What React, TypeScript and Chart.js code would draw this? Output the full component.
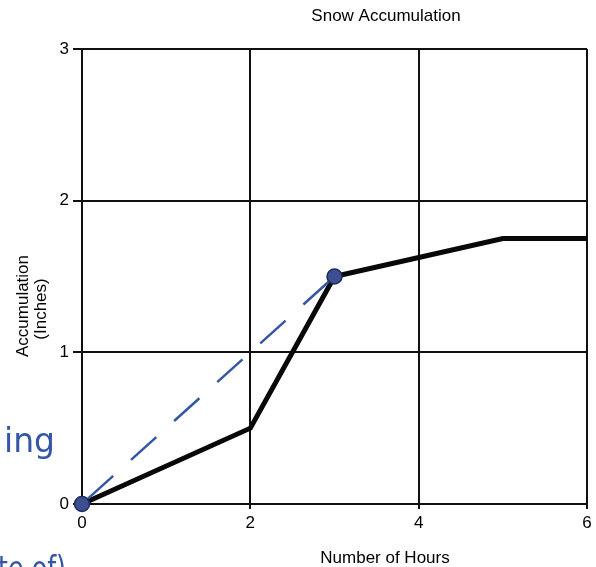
import React, { useEffect, useRef } from "react";
import { Chart, registerables } from "chart.js";

Chart.register(...registerables);

// ---- data ----
const hours = [0, 2, 3, 5, 6];
const accumulation = [0, 0.5, 1.5, 1.75, 1.75];
const rateHours = [0, 3];
const rateAccumulation = [0, 1.5];
const xTickValues = [0, 2, 4, 6];
const yTickValues = [0, 1, 2, 3];
const chartTitle = "Snow Accumulation";
const xTitle = "Number of Hours";
const yTitleLines = ["Accumulation", "(Inches)"];
const noteTop = "ing";
const noteBottom = "te of)";

const FONT = '"Liberation Sans", Arial, sans-serif';
const INK = "#3556a6";

const textPlugin = {
  id: "sheetText",
  afterDraw(chart: any) {
    const ctx = chart.ctx as CanvasRenderingContext2D;
    ctx.save();
    ctx.fillStyle = "#000";
    ctx.font = `17px ${FONT}`;
    ctx.textAlign = "center";
    ctx.textBaseline = "alphabetic";
    ctx.fillText(chartTitle, 386, 21);
    ctx.fillText(xTitle, 385, 563);
    const yPos = [
      [28, 306],
      [46, 309],
    ];
    yTitleLines.forEach((t, i) => {
      ctx.save();
      ctx.translate(yPos[i][0], yPos[i][1]);
      ctx.rotate(-Math.PI / 2);
      ctx.fillText(t, 0, 0);
      ctx.restore();
    });
    ctx.fillStyle = INK;
    ctx.font = `33px "DejaVu Sans", sans-serif`;
    ctx.textAlign = "left";
    ctx.fillText(noteTop, 4, 452);
    ctx.fillText(noteBottom, -2, 580, 68);
    ctx.restore();
  },
};

export default function App() {
  const ref = useRef<HTMLCanvasElement | null>(null);

  useEffect(() => {
    if (!ref.current) return;
    const gridColor = "#111";
    const tickFont = { family: FONT, size: 17 };
    const chart = new Chart(ref.current, {
      type: "line",
      data: {
        datasets: [
          {
            label: "Rate",
            data: rateHours.map((x, i) => ({ x, y: rateAccumulation[i] })),
            borderColor: INK,
            borderWidth: 2.5,
            borderDash: [34, 24],
            borderDashOffset: -8,
            pointRadius: 7.5,
            pointBackgroundColor: "#3d4f90",
            pointBorderColor: "#1f2b5e",
            pointBorderWidth: 1.5,
            clip: false,
            tension: 0,
          } as any,
          {
            label: "Accumulation",
            data: hours.map((x, i) => ({ x, y: accumulation[i] })),
            borderColor: "#080808",
            borderWidth: 5,
            pointRadius: 0,
            clip: false,
            tension: 0,
          } as any,
        ],
      },
      options: {
        responsive: false,
        animation: false,
        layout: { padding: { top: 49, right: 7, bottom: 0, left: 0 } },
        plugins: {
          legend: { display: false },
          title: { display: false },
          tooltip: { enabled: false },
        },
        scales: {
          x: {
            type: "linear",
            min: 0,
            max: 6,
            afterBuildTicks: (s: any) => {
              s.ticks = xTickValues.map((v) => ({ value: v }));
            },
            afterFit: (s: any) => {
              s.height = 63;
            },
            grid: { color: gridColor, lineWidth: 2, tickLength: 5 },
            border: { color: gridColor, width: 2 },
            ticks: { color: "#000", font: tickFont, padding: 4, maxRotation: 0 },
          },
          y: {
            type: "linear",
            min: 0,
            max: 3,
            afterBuildTicks: (s: any) => {
              s.ticks = yTickValues.map((v) => ({ value: v }));
            },
            afterFit: (s: any) => {
              s.width = 82;
            },
            grid: { color: gridColor, lineWidth: 2, tickLength: 9 },
            border: { color: gridColor, width: 2 },
            ticks: { color: "#000", font: tickFont, padding: 4 },
          },
        },
      } as any,
      plugins: [textPlugin],
    });
    return () => chart.destroy();
  }, []);

  return (
    <div style={{ position: "fixed", left: 0, top: 0, width: 596, height: 567, background: "#fff" }}>
      <canvas ref={ref} width={596} height={567} style={{ width: 596, height: 567, display: "block" }} />
    </div>
  );
}
